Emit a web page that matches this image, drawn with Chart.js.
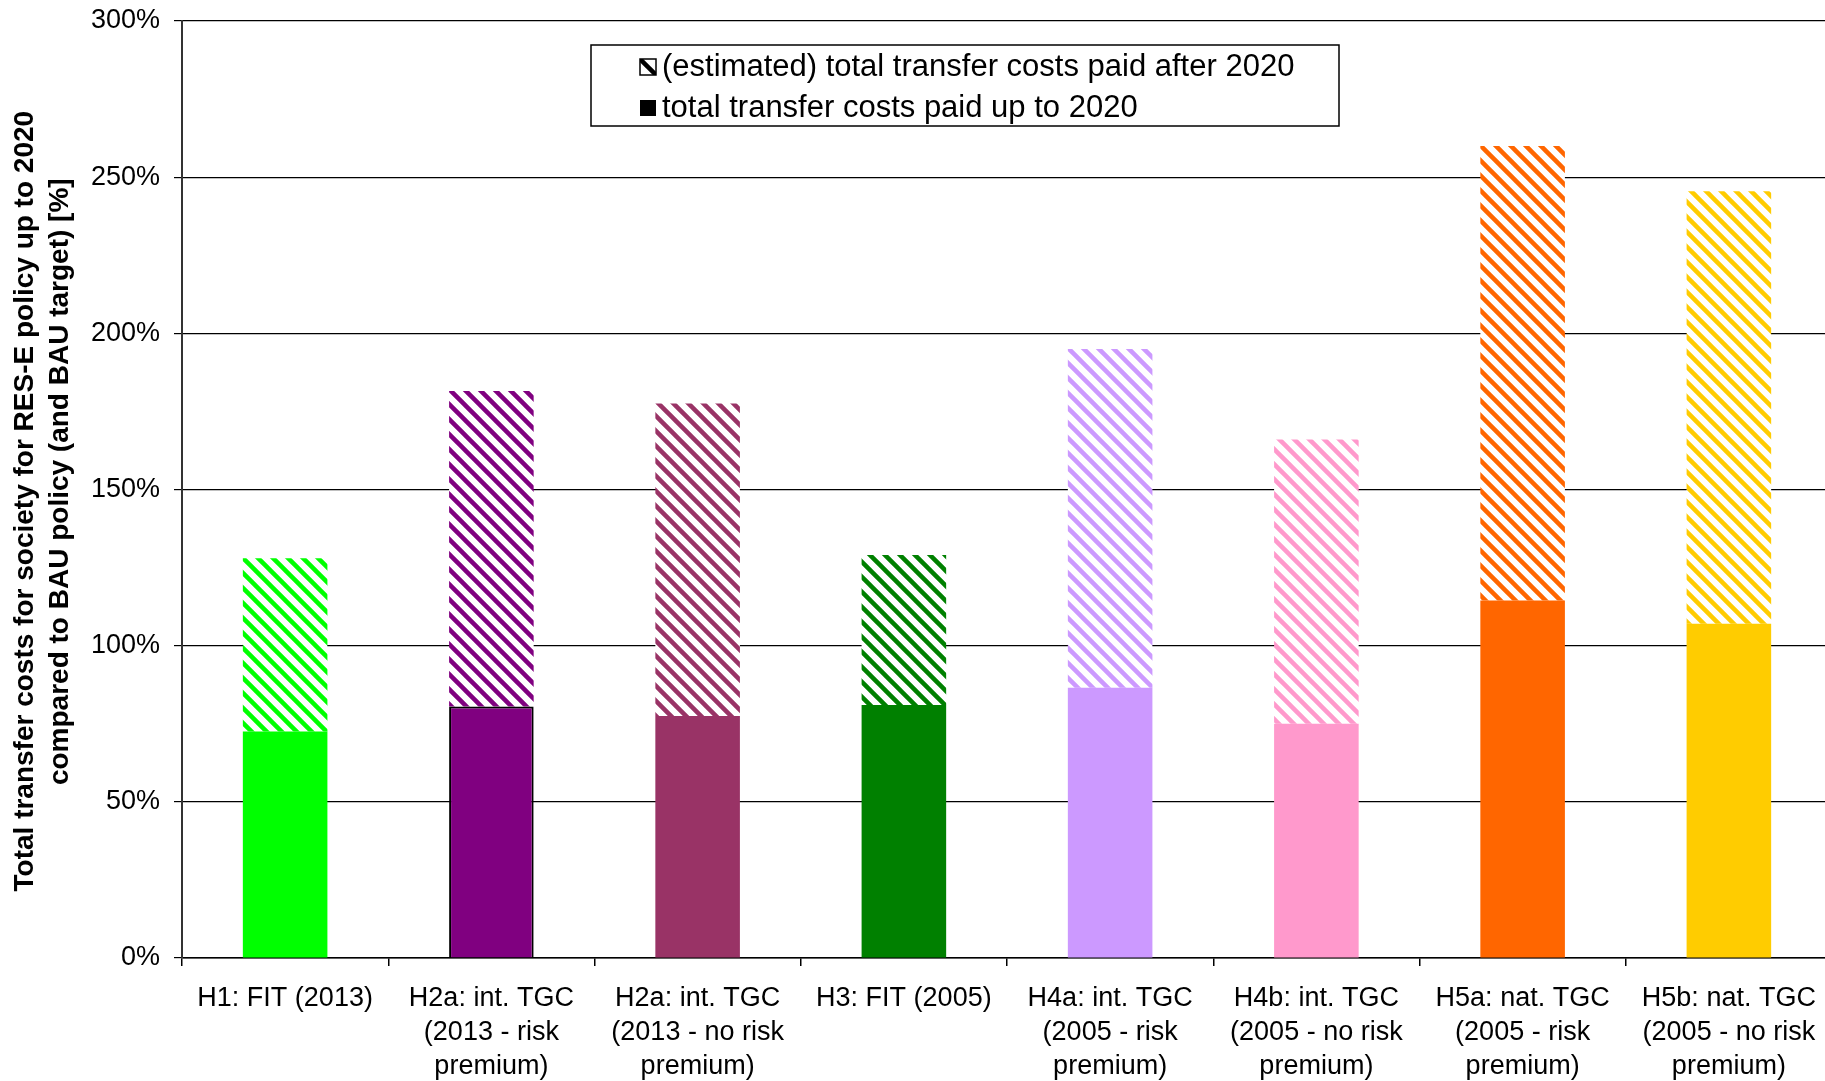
<!DOCTYPE html>
<html>
<head>
<meta charset="utf-8">
<script src="https://cdn.jsdelivr.net/npm/chart.js@4.4.1/dist/chart.umd.min.js"></script>
<style>
  html, body { margin: 0; padding: 0; background: #fff; overflow: hidden; }
  #wrap { position: relative; width: 1840px; height: 1081px; }
</style>
</head>
<body>
<div id="wrap"><canvas id="c" width="1840" height="1081"></canvas></div>
<script>
// Scenario names (multi-line category labels)
const categories = [
  ['H1: FIT (2013)'],
  ['H2a: int. TGC', '(2013 - risk', 'premium)'],
  ['H2a: int. TGC', '(2013 - no risk', 'premium)'],
  ['H3: FIT (2005)'],
  ['H4a: int. TGC', '(2005 - risk', 'premium)'],
  ['H4b: int. TGC', '(2005 - no risk', 'premium)'],
  ['H5a: nat. TGC', '(2005 - risk', 'premium)'],
  ['H5b: nat. TGC', '(2005 - no risk', 'premium)']
];

// Transfer costs in % of the BAU reference
const paidUpTo2020  = [72.5, 80.5, 77.5, 81, 86.5, 75, 114.5, 107];
const paidAfter2020 = [55.5, 101, 100, 48, 108.5, 91, 145.5, 138.5];

const scenarioColors = ['#00FF00', '#800080', '#993366', '#008000', '#CC99FF', '#FF99CC', '#FF6600', '#FFCC00'];

const seriesNames = [
  '(estimated) total transfer costs paid after 2020',
  'total transfer costs paid up to 2020'
];

const yTitle = [
  'Total transfer costs for society for RES-E policy up to 2020   ',
  '  compared to BAU policy (and BAU target) [%]'
];

const yMin = 0, yMax = 300, yStep = 50;

const FONT = '"Liberation Sans", Arial, sans-serif';

// Diagonal stripe fill for the post-2020 share
function hatch(color) {
  const s = 15;
  const p = document.createElement('canvas');
  p.width = s; p.height = s;
  const g = p.getContext('2d');
  g.fillStyle = '#fff';
  g.fillRect(0, 0, s, s);
  g.strokeStyle = color;
  g.lineWidth = 4.5;
  g.beginPath();
  for (const o of [-s, 0, s]) {
    g.moveTo(o - 3, -3);
    g.lineTo(o + s + 3, s + 3);
  }
  g.stroke();
  return g.createPattern(p, 'repeat');
}

// Boxed legend in the upper part of the plot
const boxedLegend = {
  id: 'boxedLegend',
  afterDraw(chart) {
    const c = chart.ctx;
    const x0 = 591, y0 = 45, w = 748, h = 81;
    c.save();
    c.fillStyle = '#fff';
    c.fillRect(x0, y0, w, h);
    c.strokeStyle = '#000';
    c.lineWidth = 1.5;
    c.strokeRect(x0, y0, w, h);

    const ix = 640, iz = 16, tx = 662;
    const rows = [67, 108];
    c.font = '31px ' + FONT;
    c.fillStyle = '#000';
    c.textBaseline = 'middle';
    c.textAlign = 'left';

    // hatched item
    let cy = rows[0];
    c.save();
    c.beginPath();
    c.rect(ix, cy - iz / 2, iz, iz);
    c.clip();
    c.fillStyle = '#fff';
    c.fillRect(ix, cy - iz / 2, iz, iz);
    c.strokeStyle = '#000';
    c.lineWidth = 4.5;
    c.beginPath();
    c.moveTo(ix - 2, cy - iz / 2 - 2);
    c.lineTo(ix + iz + 2, cy + iz / 2 + 2);
    c.stroke();
    c.restore();
    c.strokeStyle = '#000';
    c.lineWidth = 1.5;
    c.strokeRect(ix, cy - iz / 2, iz, iz);
    c.fillText(seriesNames[0], tx, cy);

    // solid item
    cy = rows[1];
    c.fillRect(ix, cy - iz / 2, iz, iz);
    c.fillText(seriesNames[1], tx, cy);
    c.restore();
  }
};

new Chart(document.getElementById('c'), {
  type: 'bar',
  data: {
    labels: categories,
    datasets: [
      {
        label: seriesNames[1],
        data: paidUpTo2020,
        backgroundColor: scenarioColors,
        borderColor: '#000',
        borderWidth: scenarioColors.map((c, i) => (i === 1 ? 2 : 0)),
        borderSkipped: 'start',
        barPercentage: 0.41,
        categoryPercentage: 1,
        stack: 'total'
      },
      {
        label: seriesNames[0],
        data: paidAfter2020,
        backgroundColor: scenarioColors.map(hatch),
        borderWidth: 0,
        barPercentage: 0.41,
        categoryPercentage: 1,
        stack: 'total'
      }
    ]
  },
  options: {
    responsive: false,
    animation: false,
    devicePixelRatio: 1,
    layout: { padding: { left: 0, right: 8, top: 21, bottom: 0 } },
    plugins: {
      legend: { display: false },
      tooltip: { enabled: false }
    },
    scales: {
      x: {
        stacked: true,
        grid: { drawOnChartArea: false, drawTicks: true, tickLength: 8, color: '#000', offset: true, lineWidth: 1.5 },
        border: { color: '#000', width: 1.5 },
        ticks: {
          color: '#000',
          font: { family: FONT, size: 27, lineHeight: 1.25 },
          padding: 16,
          maxRotation: 0,
          autoSkip: false
        },
        afterFit(scale) { scale.height = 123; }
      },
      y: {
        stacked: true,
        min: yMin,
        max: yMax,
        ticks: {
          stepSize: yStep,
          callback: v => v + '%',
          color: '#000',
          font: { family: FONT, size: 27, lineHeight: 0.4 },
          padding: 14
        },
        grid: { color: '#000', lineWidth: 1.2, tickLength: 8 },
        border: { color: '#333', width: 2 },
        title: {
          display: true,
          text: yTitle,
          color: '#000',
          font: { family: FONT, size: 28, weight: 'bold', lineHeight: 1.25 },
          padding: { top: 8, bottom: 0 }
        },
        afterFit(scale) { scale.width = 182; }
      }
    }
  },
  plugins: [boxedLegend]
});
</script>
</body>
</html>
